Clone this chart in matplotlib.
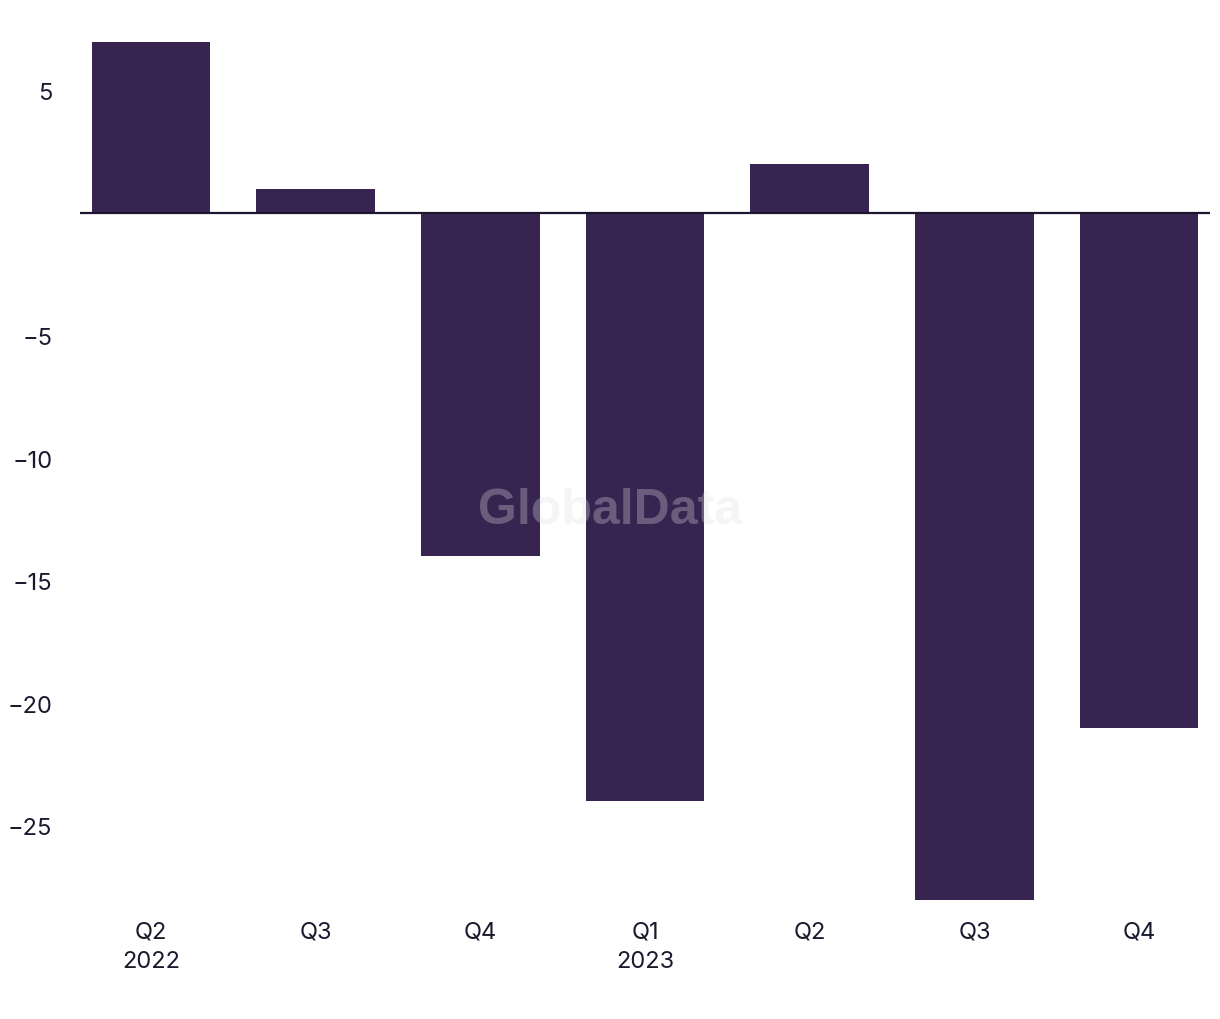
import matplotlib
matplotlib.use("Agg")
import matplotlib.pyplot as plt

categories = ["Q2\n2022", "Q3", "Q4", "Q1\n2023", "Q2", "Q3", "Q4"]
values = [7, 1, -14, -24, 2, -28, -21]
yticks = [5, -5, -10, -15, -20, -25]

plt.rcParams['font.family'] = ['Inter', 'DejaVu Sans']

fig = plt.figure(figsize=(12.2, 10.2), dpi=100)
ax = fig.add_axes([80/1220, 1 - 900.5/1020, 1130/1220, 858/1020])

x = list(range(len(categories)))
ax.bar(x, values, width=0.72, color="#372451", zorder=2)
ax.axhline(0, color="#1c1530", linewidth=1.6, zorder=3)

ax.set_xlim(-0.43, 6.43)
ax.set_ylim(-28, 7)
ax.set_yticks(yticks)
ax.set_yticklabels([f"{v}".replace("-", "\u2212") for v in yticks])
ax.set_xticks(x)
ax.set_xticklabels(categories, linespacing=1.45)

for s in ax.spines.values():
    s.set_visible(False)
ax.tick_params(axis="both", length=0, labelsize=17, colors="#1a1a2e")
ax.tick_params(axis="y", pad=20)
ax.tick_params(axis="x", pad=15)

fig.text(610/1220, 1 - 511/1020, "GlobalData", ha="center", va="center",
         fontsize=36, fontweight="bold", color="#e0e0e0", alpha=0.3,
         family=["Liberation Sans", "DejaVu Sans"], zorder=10)

fig.savefig("out.png", dpi=100, facecolor="white")
